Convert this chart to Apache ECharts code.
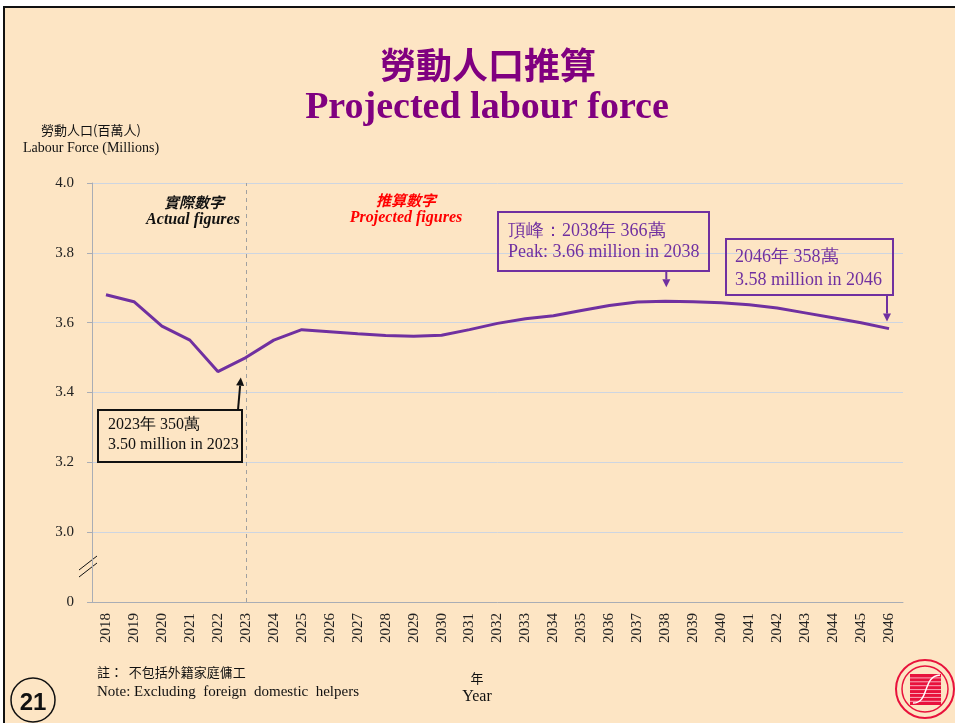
<!DOCTYPE html>
<html>
<head>
<meta charset="utf-8">
<script src="https://cdn.jsdelivr.net/npm/echarts@6/dist/echarts.min.js"></script>
<style>
  html, body { margin: 0; padding: 0; background: #ffffff; }
  #chart { width: 955px; height: 723px; }
</style>
</head>
<body>
<div id="chart"></div>
<script>
// 年份
const years = ['2018', '2019', '2020', '2021', '2022', '2023', '2024', '2025', '2026', '2027',
  '2028', '2029', '2030', '2031', '2032', '2033', '2034', '2035', '2036', '2037',
  '2038', '2039', '2040', '2041', '2042', '2043', '2044', '2045', '2046']

// 勞動人口(百萬人)
const labourForce = [3.68, 3.66, 3.59, 3.55, 3.46, 3.50, 3.55, 3.58, 3.574, 3.568,
  3.563, 3.561, 3.564, 3.58, 3.598, 3.611, 3.62, 3.635, 3.649, 3.659,
  3.661, 3.66, 3.657, 3.651, 3.642, 3.628, 3.614, 3.60, 3.583]

// 縱軸刻度 (2.8 顯示為 0，表示斷軸)
const yMin = 2.8
const yMax = 4.0
const yStep = 0.2

const lastActualYear = '2023'

const SERIF = '"Liberation Serif", "Times New Roman", serif'
const CJK = '"Noto Sans CJK TC", "Noto Sans CJK SC", sans-serif'
const PURPLE = '#7030A0'

const chart = echarts.init(document.getElementById('chart'))

chart.setOption({
  animation: false,
  backgroundColor: 'transparent',
  grid: { left: 92, right: 52, top: 183, bottom: 121 },
  xAxis: {
    type: 'category',
    data: years,
    boundaryGap: true,
    axisLine: { lineStyle: { color: '#a9adb5', width: 1 } },
    axisTick: { alignWithLabel: true, length: 5, lineStyle: { color: '#a9adb5' } },
    axisLabel: {
      rotate: 90,
      interval: 0,
      margin: 11,
      color: '#222',
      fontSize: 15,
      fontFamily: SERIF
    },
    splitLine: { show: false }
  },
  yAxis: {
    type: 'value',
    min: yMin,
    max: yMax,
    interval: yStep,
    axisLine: { show: true, lineStyle: { color: '#a9adb5', width: 1 } },
    axisTick: { show: true, length: 5, lineStyle: { color: '#a9adb5' } },
    axisLabel: {
      color: '#222',
      fontSize: 15,
      fontFamily: SERIF,
      margin: 18,
      formatter: v => (v < yMin + 0.01 ? '0' : v.toFixed(1))
    },
    splitLine: { lineStyle: { color: '#cdd5e1', width: 1 } }
  },
  series: [{
    type: 'line',
    data: labourForce,
    symbol: 'none',
    lineStyle: { color: PURPLE, width: 3 },
    z: 5,
    markLine: {
      silent: true,
      symbol: 'none',
      label: { show: false },
      lineStyle: { color: '#a0a0a0', type: [4, 4], width: 1 },
      data: [{ xAxis: lastActualYear }]
    }
  }]
})

// 箭頭
const arrow = (x1, y1, x2, y2, color) => {
  const ang = Math.atan2(y2 - y1, x2 - x1)
  const L = 8, W = 4
  const bx = x2 - L * Math.cos(ang), by = y2 - L * Math.sin(ang)
  return [
    { type: 'line', shape: { x1, y1, x2: bx, y2: by }, style: { stroke: color, lineWidth: 2 } },
    {
      type: 'polygon',
      shape: {
        points: [
          [x2, y2],
          [bx + W * Math.sin(ang), by - W * Math.cos(ang)],
          [bx - W * Math.sin(ang), by + W * Math.cos(ang)]
        ]
      },
      style: { fill: color }
    }
  ]
}

const txt = (x, y, text, opts) => ({
  type: 'text',
  x, y,
  style: Object.assign({
    text,
    fill: '#111',
    fontSize: 14,
    fontFamily: SERIF,
    textAlign: 'left',
    textVerticalAlign: 'middle'
  }, opts || {})
})

const box = (x, y, w, h, color) => ({
  type: 'rect',
  shape: { x, y, width: w, height: h },
  style: { fill: 'rgba(0,0,0,0)', stroke: color, lineWidth: 2 }
})

const px = (x, y) => chart.convertToPixel({ gridIndex: 0 }, [x, y])

const p2023 = px('2023', labourForce[5])
const p2038 = px('2038', labourForce[20])
const p2046 = px('2046', labourForce[28])

const elements = [
  // 背景頁面
  {
    type: 'rect',
    shape: { x: 4, y: 7, width: 980, height: 740 },
    style: { fill: '#FDE5C4', stroke: '#111', lineWidth: 2 },
    z: -10
  },
  // 標題
  txt(488, 65, '勞動人口推算', { fill: '#800080', fontSize: 36, fontFamily: CJK, fontWeight: 'bold', textAlign: 'center' }),
  txt(487, 108, 'Projected labour force', { fill: '#800080', fontSize: 38, fontWeight: 'bold', textAlign: 'center' }),
  // 縱軸名稱
  txt(91, 130, '勞動人口(百萬人)', { fontSize: 13, fontFamily: CJK, textAlign: 'center' }),
  txt(91, 148, 'Labour Force (Millions)', { fontSize: 14, textAlign: 'center' }),
  // 實際 / 推算
  txt(194, 202, '實際數字', { fontSize: 15, fontFamily: CJK, fontWeight: 'bold', fontStyle: 'italic', textAlign: 'center' }),
  txt(193, 220, 'Actual figures', { fontSize: 16, fontWeight: 'bold', fontStyle: 'italic', textAlign: 'center' }),
  txt(406, 200, '推算數字', { fill: '#ff0000', fontSize: 15, fontFamily: CJK, fontWeight: 'bold', fontStyle: 'italic', textAlign: 'center' }),
  txt(406, 218, 'Projected figures', { fill: '#ff0000', fontSize: 16, fontWeight: 'bold', fontStyle: 'italic', textAlign: 'center' }),
  // 2023 註解
  box(98, 410, 144, 52, '#111'),
  txt(108, 425, '2023年 350萬', { fontSize: 16 }),
  txt(108, 445, '3.50 million in 2023', { fontSize: 16 }),
  ...arrow(238, 410, p2023[0] - 5, p2023[1] + 20, '#111'),
  // 頂峰註解
  box(498, 212, 211, 59, PURPLE),
  txt(508, 231, '頂峰：2038年 366萬', { fill: PURPLE, fontSize: 18 }),
  txt(508, 252, 'Peak: 3.66 million in 2038', { fill: PURPLE, fontSize: 18 }),
  ...arrow(p2038[0] + 1, 271, p2038[0] + 1, p2038[1] - 14, PURPLE),
  // 2046 註解
  box(726, 239, 167, 56, PURPLE),
  txt(735, 257, '2046年 358萬', { fill: PURPLE, fontSize: 18 }),
  txt(735, 280, '3.58 million in 2046', { fill: PURPLE, fontSize: 18 }),
  ...arrow(p2046[0] - 2, 295, p2046[0] - 2, p2046[1] - 7, PURPLE),
  // 斷軸符號
  { type: 'line', shape: { x1: 79, y1: 570, x2: 97, y2: 556 }, style: { stroke: '#111', lineWidth: 1 } },
  { type: 'line', shape: { x1: 79, y1: 577, x2: 97, y2: 563 }, style: { stroke: '#111', lineWidth: 1 } },
  // 註
  txt(97, 672, '註：  不包括外籍家庭傭工', { fontSize: 13, fontFamily: CJK }),
  txt(97, 692, 'Note: Excluding  foreign  domestic  helpers', { fontSize: 15 }),
  txt(477, 678, '年', { fontSize: 13, fontFamily: CJK, textAlign: 'center' }),
  txt(477, 697, 'Year', { fontSize: 16, textAlign: 'center' }),
  // 頁碼
  { type: 'circle', shape: { cx: 33, cy: 700, r: 22 }, style: { fill: 'rgba(0,0,0,0)', stroke: '#111', lineWidth: 1.5 } },
  txt(33, 703, '21', { fontSize: 24, fontWeight: 'bold', fontFamily: '"Liberation Sans", Arial, sans-serif', textAlign: 'center' }),
  // 標誌
  { type: 'circle', shape: { cx: 925, cy: 689, r: 29 }, style: { fill: 'rgba(0,0,0,0)', stroke: '#e8123c', lineWidth: 2 } },
  { type: 'circle', shape: { cx: 925, cy: 689, r: 23 }, style: { fill: 'rgba(0,0,0,0)', stroke: '#e8123c', lineWidth: 1.5 } },
  { type: 'rect', shape: { x: 910, y: 674, width: 31, height: 31 }, style: { fill: '#e8123c' } }
]

for (let i = 1; i < 8; i++) {
  elements.push({ type: 'line', shape: { x1: 910, y1: 674 + i * 3.9, x2: 941, y2: 674 + i * 3.9 }, style: { stroke: '#ffd2da', lineWidth: 0.8 } })
}
elements.push({
  type: 'bezierCurve',
  shape: { x1: 913, y1: 703, cpx1: 930, cpy1: 703, cpx2: 922, cpy2: 676, x2: 940, y2: 675 },
  style: { stroke: '#ffffff', lineWidth: 1.5, fill: 'none' }
})

chart.setOption({ graphic: { elements } })
</script>
</body>
</html>
